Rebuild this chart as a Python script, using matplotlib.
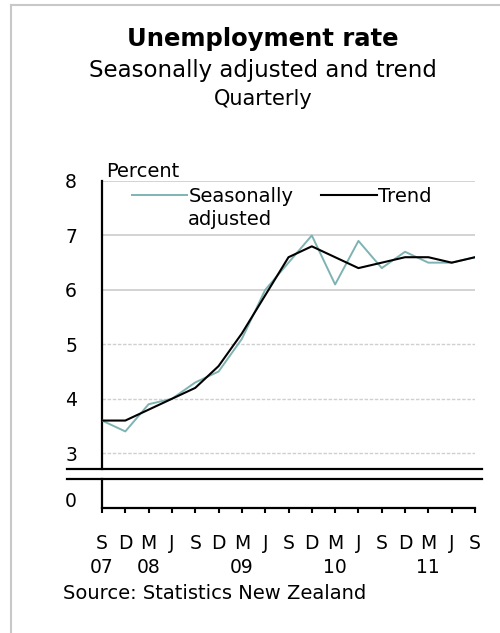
import matplotlib
matplotlib.use("Agg")
import matplotlib.pyplot as plt
from matplotlib.lines import Line2D
import numpy as np

plt.rcParams['font.family'] = ['DejaVu Sans']

# ---- data ----
quarters = ['S', 'D', 'M', 'J', 'S', 'D', 'M', 'J', 'S', 'D', 'M', 'J', 'S', 'D', 'M', 'J', 'S']
years = ['07', '', '08', '', '', '', '09', '', '', '', '10', '', '', '', '11', '', '']
seasonally_adjusted = [3.6, 3.4, 3.9, 4.0, 4.3, 4.5, 5.1, 6.0, 6.5, 7.0, 6.1, 6.9, 6.4, 6.7, 6.5, 6.5, 6.6]
trend = [3.6, 3.6, 3.8, 4.0, 4.2, 4.6, 5.2, 5.9, 6.6, 6.8, 6.6, 6.4, 6.5, 6.6, 6.6, 6.5, 6.6]
yticks_top = [3, 4, 5, 6, 7, 8]

W, H = 500, 633
fig = plt.figure(figsize=(W / 100, H / 100), dpi=100)

def fx(px):
    return px / W

def fy(py):
    return 1 - py / H

SA_COLOR = '#7fb3b3'
GRID = '#c8c8c8'

x = np.arange(len(quarters))

# upper axes (3-8)
ax = fig.add_axes([fx(102), fy(469), fx(475) - fx(102), fy(181) - fy(469)])
ax.plot(x, seasonally_adjusted, color=SA_COLOR, lw=1.4, label='Seasonally', zorder=3)
ax.plot(x, trend, color='black', lw=1.5, label='Trend', zorder=4)
ax.set_xlim(0, 16)
ax.set_ylim(2.71, 8)
ax.set_yticks(yticks_top)
ax.set_yticklabels([str(v) for v in yticks_top])
ax.set_xticks([])
for v in yticks_top:
    if v >= 6:
        ax.axhline(v, color=GRID, lw=1.1, zorder=1)
    else:
        ax.axhline(v, color='#cfcfcf', lw=1.0, zorder=1, linestyle=(0, (2.5, 1.2)))
for s in ['top', 'right', 'bottom']:
    ax.spines[s].set_visible(False)
ax.spines['left'].set_linewidth(1.6)
ax.tick_params(axis='y', length=0, pad=18, labelsize=13.5)

leg = ax.legend(loc='upper left', bbox_to_anchor=(fx(132), fy(187)), bbox_transform=fig.transFigure,
                ncol=2, frameon=False, fontsize=14, handlelength=2.85, handletextpad=0.08,
                columnspacing=1.4, borderpad=0, borderaxespad=0)
fig.text(fx(188), fy(225), 'adjusted', ha='left', va='baseline', fontsize=14)

# lower axes (0)
ax2 = fig.add_axes([fx(102), fy(508), fx(475) - fx(102), fy(479) - fy(508)])
ax2.set_xlim(0, 16)
ax2.set_ylim(-0.28, 0.72)
ax2.set_yticks([0])
ax2.set_yticklabels(['0'])
ax2.set_xticks(x)
ax2.set_xticklabels([q + '\n' + yv for q, yv in zip(quarters, years)], linespacing=1.3)
for s in ['top', 'right']:
    ax2.spines[s].set_visible(False)
ax2.spines['left'].set_linewidth(1.6)
ax2.spines['bottom'].set_linewidth(1.6)
ax2.tick_params(axis='y', length=0, pad=18, labelsize=13.5)
ax2.tick_params(axis='x', direction='out', length=3.8, width=1.5, pad=15, labelsize=13.5)

# axis break lines
for yy in (469, 479):
    fig.add_artist(Line2D([fx(67), fx(482)], [fy(yy), fy(yy)], transform=fig.transFigure,
                          color='black', lw=1.6))

# frame
fig.add_artist(Line2D([fx(11), fx(11)], [fy(5), 0], transform=fig.transFigure, color=GRID, lw=1.5))
fig.add_artist(Line2D([fx(11), 1], [fy(5), fy(5)], transform=fig.transFigure, color=GRID, lw=1.5))

# texts
fig.text(fx(263), fy(46), 'Unemployment rate', ha='center', va='baseline', fontsize=17.5, fontweight='bold')
fig.text(fx(263), fy(77), 'Seasonally adjusted and trend', ha='center', va='baseline', fontsize=16.5)
fig.text(fx(263), fy(105), 'Quarterly', ha='center', va='baseline', fontsize=15)
fig.text(fx(106), fy(177), 'Percent', ha='left', va='baseline', fontsize=14)
fig.text(fx(63), fy(599), 'Source: Statistics New Zealand', ha='left', va='baseline', fontsize=14)

fig.savefig('out.png', dpi=100)
